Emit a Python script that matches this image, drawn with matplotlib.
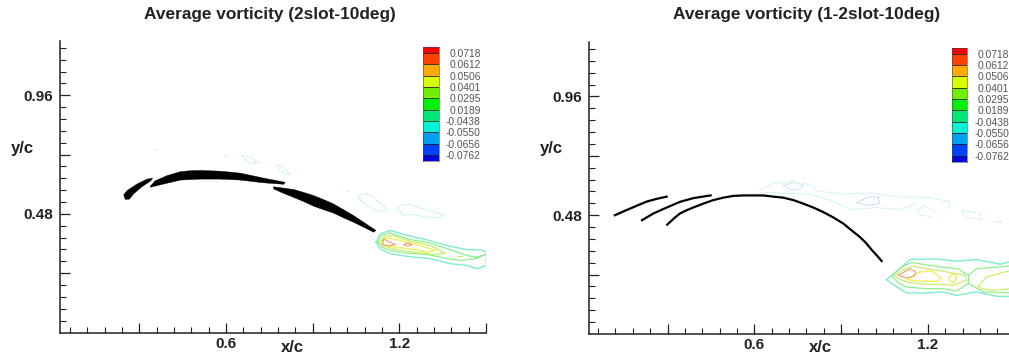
import numpy as np
import matplotlib
matplotlib.use('Agg')
import matplotlib.pyplot as plt

plt.rcParams['font.family'] = ['Liberation Sans', 'DejaVu Sans']

W = 1009
H = 362

# colour key
levels = ['-0.0762', '-0.0656', '-0.0550', '-0.0438', '0.0189', '0.0295', '0.0401', '0.0506', '0.0612', '0.0718']
level_colors = ['#0000e0', '#0040ff', '#00a0f0', '#00f5d5', '#00e878', '#00f000', '#70f000', '#d8ff00', '#ffaa00', '#ff4000', '#ff0000']

# left panel: 2slot, airfoil outlines (x/c, y/c)
slat_l = np.array([[.246, .557], [.257, .574], [.292, .601], [.327, .621], [.346, .625], [.340, .614],
                   [.309, .590], [.280, .561], [.266, .540], [.251, .539]])
main_l = np.array([[.338, .592], [.355, .614], [.396, .635], [.442, .651], [.477, .655], [.511, .656], [.580, .653],
                   [.650, .645], [.730, .625], [.805, .608], [.800, .600], [.730, .606], [.650, .617],
                   [.580, .621], [.511, .621], [.442, .617], [.384, .601], [.338, .588]])
flap_l = np.array([[.765, .590], [.834, .579], [.869, .567], [.904, .554], [.938, .538], [.973, .520], [1.007, .497],
                   [1.042, .473], [1.082, .442], [1.119, .413], [1.111, .406], [1.077, .426], [1.042, .446],
                   [1.007, .464], [.973, .483], [.938, .497], [.904, .511], [.869, .530], [.834, .547],
                   [.800, .563], [.765, .581]])

# left panel: wake contours
l_outer = np.array([[1.119, .366], [1.134, .399], [1.169, .413], [1.227, .393], [1.296, .375], [1.365, .352],
                    [1.434, .335], [1.481, .335], [1.501, .325], [1.501, .272], [1.469, .258], [1.434, .272],
                    [1.377, .278], [1.307, .299], [1.227, .308], [1.169, .319], [1.134, .339], [1.119, .366]])
l_green = np.array([[1.125, .366], [1.140, .393], [1.169, .403], [1.227, .379], [1.307, .362], [1.365, .339],
                    [1.434, .312], [1.463, .305], [1.501, .316], [1.463, .299], [1.411, .292], [1.365, .299],
                    [1.296, .316], [1.227, .321], [1.169, .332], [1.140, .346], [1.125, .366]])
l_lime = np.array([[1.134, .366], [1.146, .386], [1.175, .393], [1.238, .370], [1.307, .352], [1.359, .321],
                   [1.319, .316], [1.250, .325], [1.175, .339], [1.146, .352], [1.134, .366]])
l_yellow = np.array([[1.140, .352], [1.144, .383], [1.180, .379], [1.250, .359], [1.325, .332], [1.296, .325],
                     [1.238, .339], [1.180, .346], [1.140, .352]])
l_orange1 = np.array([[1.142, .356], [1.146, .378], [1.186, .355], [1.163, .351], [1.142, .356]])
l_orange2 = np.array([[1.215, .356], [1.232, .363], [1.244, .355], [1.227, .350], [1.215, .356]])
l_small = np.array([[1.400, .308], [1.417, .308]])
l_cyan1 = np.array([[1.054, .547], [1.077, .563], [1.105, .554], [1.129, .527], [1.157, .504], [1.157, .493],
                    [1.123, .491], [1.088, .514], [1.054, .547]])
l_cyan2 = np.array([[1.194, .500], [1.204, .516], [1.238, .518], [1.284, .500], [1.354, .477], [1.342, .464],
                    [1.296, .467], [1.250, .477], [1.209, .477], [1.194, .500]])
l_cyan3 = np.array([[.777, .679], [.794, .675], [.820, .641], [.805, .641], [.782, .661], [.777, .679]])
l_cyan4 = np.array([[.652, .719], [.684, .711], [.713, .688], [.684, .686], [.667, .702], [.652, .719]])
l_cyan5 = np.array([[.594, .719], [.606, .715], [.601, .708]])
l_cyan6 = np.array([[.355, .742], [.363, .738]])
l_cyan7 = np.array([[1.019, .574], [1.028, .571]])

# right panel: 1-2slot, thin airfoil lines
slat_r = np.array([[.118, .480], [.153, .498], [.193, .518], [.228, .535], [.262, .546], [.297, .555]])
slat2_r = np.array([[.212, .460], [.251, .487], [.297, .511], [.343, .534], [.389, .549], [.449, .560]])
main_r = np.array([[.299, .442], [.326, .471], [.343, .487], [.366, .500], [.395, .514], [.424, .527], [.458, .541],
                   [.493, .551], [.527, .558], [.562, .560], [.597, .560], [.631, .560], [.666, .555], [.700, .551],
                   [.735, .541], [.769, .527], [.804, .511], [.838, .493], [.873, .471], [.908, .446], [.936, .419],
                   [.965, .392], [.986, .368], [1.005, .341], [1.023, .318], [1.040, .295]])

# right panel: wake contours
r_outer = np.array([[1.057, .220], [1.098, .258], [1.138, .301], [1.230, .303], [1.299, .294], [1.368, .301],
                    [1.449, .282], [1.480, .291], [1.501, .291], [1.501, .152], [1.480, .152], [1.438, .152],
                    [1.368, .170], [1.299, .156], [1.253, .170], [1.196, .166], [1.126, .166], [1.092, .190],
                    [1.057, .220]])
r_green = np.array([[1.075, .236], [1.109, .271], [1.144, .289], [1.219, .275], [1.305, .263], [1.340, .237],
                    [1.340, .204], [1.299, .174], [1.253, .183], [1.196, .183], [1.126, .190], [1.098, .206],
                    [1.075, .236]])
r_green_top = np.array([[1.340, .237], [1.368, .264], [1.449, .271], [1.501, .278]])
r_green_bot = np.array([[1.340, .204], [1.392, .170], [1.501, .166]])
r_lime = np.array([[1.086, .237], [1.115, .260], [1.150, .274], [1.213, .260], [1.265, .251], [1.328, .237],
                   [1.332, .217], [1.288, .197], [1.242, .201], [1.184, .201], [1.126, .210], [1.098, .224],
                   [1.086, .237]])
r_lime2 = np.array([[1.374, .193], [1.403, .231], [1.480, .255], [1.501, .258], [1.501, .183], [1.480, .183],
                    [1.426, .177], [1.386, .183], [1.374, .193]])
r_yellow = np.array([[1.172, .251], [1.213, .255], [1.247, .224], [1.230, .213], [1.167, .214], [1.126, .220],
                     [1.172, .251]])
r_yellow2 = np.array([[1.274, .231], [1.288, .244], [1.299, .228], [1.288, .206], [1.274, .217], [1.274, .231]])
r_orange = np.array([[1.098, .237], [1.138, .264], [1.158, .251], [1.152, .233], [1.126, .227], [1.098, .237]])
r_cyan_top = np.array([[.625, .584], [.666, .608], [.735, .617], [.798, .601], [.815, .578], [.908, .565],
                       [1.000, .570], [1.103, .554], [1.207, .551], [1.276, .534], [1.270, .507]])
r_cyan_bot = np.array([[.625, .574], [.712, .568], [.792, .565], [.862, .541], [.931, .503], [1.023, .511],
                       [1.103, .503], [1.161, .527]])
r_blob1 = np.array([[.700, .601], [.735, .611], [.769, .601], [.758, .585], [.723, .584], [.700, .601]])
r_blob2 = np.array([[.954, .531], [.994, .554], [1.029, .554], [1.032, .527], [.988, .520], [.954, .531]])
r_hook = np.array([[1.224, .493], [1.190, .520], [1.161, .500], [1.173, .480], [1.213, .473]])
r_loop = np.array([[1.317, .500], [1.380, .487], [1.386, .462], [1.334, .471], [1.317, .500]])
r_small = np.array([[1.432, .457], [1.461, .457]])

C_OUTER = '#80eccb'
C_GREEN = '#90ee90'
C_LIME = '#c8f070'
C_YELLOW = '#eef060'
C_ORANGE = '#f0a070'
C_CYAN = '#c4f2ee'
C_BLOB = '#a8d0f0'


def line(ax, pts, color, lw=0.9, ls='-'):
    ax.plot(pts[:, 0], pts[:, 1], color=color, lw=lw, ls=ls)


def setup_axes(left, right, top, bottom, xmin, xmax):
    ax = fig.add_axes([left / W, 1 - bottom / H, (right - left) / W, (bottom - top) / H])
    ax.set_xlim(xmin, xmax)
    ax.set_ylim(0, 1.18)
    for s in ['top', 'right']:
        ax.spines[s].set_visible(False)
    for s in ['left', 'bottom']:
        ax.spines[s].set_linewidth(1.1)
        ax.spines[s].set_color('#222222')
    ax.set_xticks([.3, .6, .9, 1.2, 1.5])
    ax.set_xticklabels(['', '0.6', '', '1.2', ''])
    ax.set_yticks([.24, .48, .72, .96])
    ax.set_yticklabels(['', '0.48', '', '0.96'])
    ax.set_xticks(np.arange(.06, 1.5, .06), minor=True)
    ax.set_yticks(np.arange(.048, 1.17, .048), minor=True)
    ax.tick_params(which='major', direction='in', length=7.5, width=0.9, color='#222222')
    ax.tick_params(which='minor', direction='in', length=4, width=0.8, color='#222222')
    ax.tick_params(axis='x', which='major', pad=3, labelsize=11)
    ax.tick_params(axis='y', which='major', pad=4.5, labelsize=11)
    for t in ax.get_xticklabels() + ax.get_yticklabels():
        t.set_fontweight('bold')
        t.set_color('#222222')
    return ax


def color_key(left, right, top, bottom):
    cax = fig.add_axes([left / W, 1 - bottom / H, (right - left) / W, (bottom - top) / H])
    edges = [-0.5] + list(range(len(levels))) + [len(levels) - 0.45]
    band = np.arange(len(level_colors)).reshape(-1, 1)
    cmap = matplotlib.colors.ListedColormap(level_colors)
    cax.pcolormesh([0, 1], edges, band, cmap=cmap, edgecolors='none')
    cax.hlines(range(len(levels)), 0, 1, color='#222222', lw=0.6)
    cax.set_xticks([])
    cax.yaxis.tick_right()
    cax.set_yticks(range(len(levels)))
    cax.set_yticklabels(levels, ha='right', fontsize=7.4, color='#555555')
    cax.tick_params(axis='y', length=0, pad=30)
    for s in cax.spines.values():
        s.set_linewidth(0.4)
        s.set_color('#444444')
    return cax


fig = plt.figure(figsize=(W / 100, H / 100), dpi=100)

# panel izquierdo
ax1 = setup_axes(59.5, 486, 41, 332.5, .0237, 1.5)
for pts in [slat_l, main_l, flap_l]:
    ax1.fill(pts[:, 0], pts[:, 1], color='black', lw=0.3)
line(ax1, l_outer, C_OUTER, 1.0)
line(ax1, l_green, C_GREEN)
line(ax1, l_lime, C_LIME)
line(ax1, l_yellow, C_YELLOW, 1.0)
line(ax1, l_orange1, C_ORANGE, 0.8)
line(ax1, l_orange2, C_ORANGE, 0.8)
line(ax1, l_small, C_LIME)
for pts in [l_cyan1, l_cyan2, l_cyan3, l_cyan4, l_cyan5, l_cyan6, l_cyan7]:
    line(ax1, pts, C_CYAN, 0.8, (0, (3, 1)))
color_key(423, 439, 46.7, 160.7)

# panel derecho
ax2 = setup_axes(588.7, 1014.7, 42, 334, .0276, 1.5)
for pts in [slat_r, slat2_r, main_r]:
    ax2.plot(pts[:, 0], pts[:, 1], color='black', lw=1.6)
line(ax2, r_outer, C_OUTER, 1.0)
line(ax2, r_green, C_GREEN)
line(ax2, r_green_top, C_GREEN)
line(ax2, r_green_bot, C_GREEN)
line(ax2, r_lime, C_LIME)
line(ax2, r_lime2, C_LIME)
line(ax2, r_yellow, C_YELLOW, 1.0)
line(ax2, r_yellow2, C_YELLOW, 1.0)
line(ax2, r_orange, C_ORANGE, 0.8)
for pts in [r_cyan_top, r_cyan_bot, r_hook, r_loop, r_small]:
    line(ax2, pts, C_CYAN, 0.7, (0, (3, 1)))
line(ax2, r_blob1, C_BLOB, 0.7, (0, (1, 1)))
line(ax2, r_blob2, C_BLOB, 0.7, (0, (2, 1)))
color_key(952, 967.3, 47.5, 161.5)

# titulos y etiquetas
label_kw = dict(ha='center', va='center', fontweight='bold', color='#222222')
fig.text(270 / W, 1 - 14 / H, 'Average vorticity (2slot-10deg)', fontsize=12.4, **label_kw)
fig.text(806.7 / W, 1 - 15 / H, 'Average vorticity (1-2slot-10deg)', fontsize=12.4, **label_kw)
fig.text(292 / W, 1 - 347 / H, 'x/c', fontsize=12, **label_kw)
fig.text(820 / W, 1 - 348 / H, 'x/c', fontsize=12, **label_kw)
fig.text(22 / W, 1 - 148 / H, 'y/c', fontsize=12, **label_kw)
fig.text(551 / W, 1 - 149 / H, 'y/c', fontsize=12, **label_kw)

fig.savefig('out.png', dpi=100)
